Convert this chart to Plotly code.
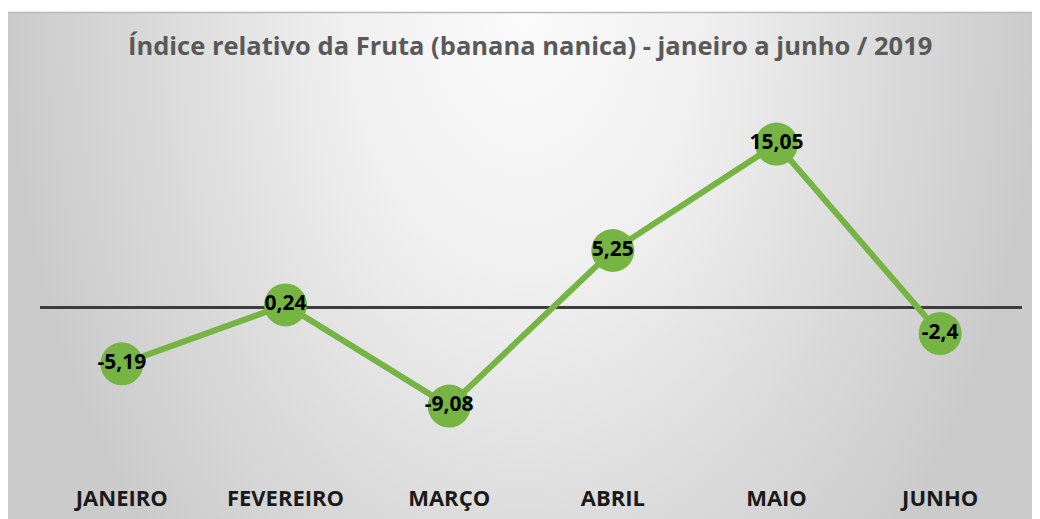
import plotly.graph_objects as go

categories = ["JANEIRO", "FEVEREIRO", "MARÇO", "ABRIL", "MAIO", "JUNHO"]
values = [-5.19, 0.24, -9.08, 5.25, 15.05, -2.4]
title_text = "Índice relativo da Fruta (banana nanica) - janeiro a junho / 2019"

labels = [str(v).replace(".", ",") for v in values]

W, H = 1040, 519
OFF = 8  # page body margin offset
FONT = "Open Sans"


def fx(xr):
    return (xr - OFF) / W


def fy(yr):
    return (H - (yr - OFF)) / H


fig = go.Figure()

# background panel, radial gradient centred at its top edge
PW = W - OFF
PH = H - 4
fig.add_trace(go.Scatter(
    x=[0, PW, PW, 0, 0], y=[PH - 760, PH - 760, PH + 760, PH + 760, PH - 760],
    mode="lines", line=dict(width=0), fill="toself",
    fillgradient=dict(type="radial",
                      colorscale=[[0, "#fbfbfb"], [0.35, "#f0f0f0"],
                                  [0.7, "#dbdbdb"], [1, "#cbcbcb"]]),
    hoverinfo="skip", showlegend=False, xaxis="x", yaxis="y",
))

# data line
fig.add_trace(go.Scatter(
    x=categories, y=values, mode="lines+markers+text",
    line=dict(color="#76b543", width=6),
    marker=dict(size=43, color="#76b543", line=dict(width=0)),
    text=labels, textposition="middle center",
    textfont=dict(family=FONT, size=21, color="#000000", weight="bold"),
    hoverinfo="skip", showlegend=False, xaxis="x2", yaxis="y2",
    cliponaxis=False,
))

ppu = 10.86
zero_ref = 307.5
ymax = 20.0
bottom_ref = 478.0
ymin = -(bottom_ref - zero_ref) / ppu
top_ref = zero_ref - ymax * ppu

fig.update_layout(
    width=W, height=H,
    margin=dict(l=0, r=0, t=0, b=0),
    paper_bgcolor="#ffffff", plot_bgcolor="rgba(0,0,0,0)",
    xaxis=dict(domain=[0, PW / W], range=[0, PW], visible=False, fixedrange=True),
    yaxis=dict(domain=[0, PH / H], range=[0, PH], visible=False, fixedrange=True),
    xaxis2=dict(domain=[fx(40), fx(1022)], anchor="y2", type="category",
                range=[-0.5, len(categories) - 0.5],
                showgrid=False, showline=False, ticks="", zeroline=False,
                tickfont=dict(family=FONT, size=22, color="#1a1a1a", weight="bold"),
                ticklabelstandoff=5),
    yaxis2=dict(domain=[fy(bottom_ref), fy(top_ref)], anchor="x2",
                range=[ymin, ymax], showgrid=False, showticklabels=False,
                zeroline=True, zerolinecolor="#3c3c3c", zerolinewidth=2.5,
                ticks=""),
    shapes=[dict(type="line", xref="paper", yref="paper",
                 x0=0, x1=1, y0=fy(12.5), y1=fy(12.5),
                 line=dict(color="#b8b8b8", width=1.5))],
    annotations=[dict(text=title_text, xref="paper", yref="paper",
                      x=fx(530), y=fy(45), showarrow=False,
                      xanchor="center", yanchor="middle",
                      font=dict(family=FONT, size=25.5, color="#595959", weight="bold"))],
)

fig.write_html("out.html")
